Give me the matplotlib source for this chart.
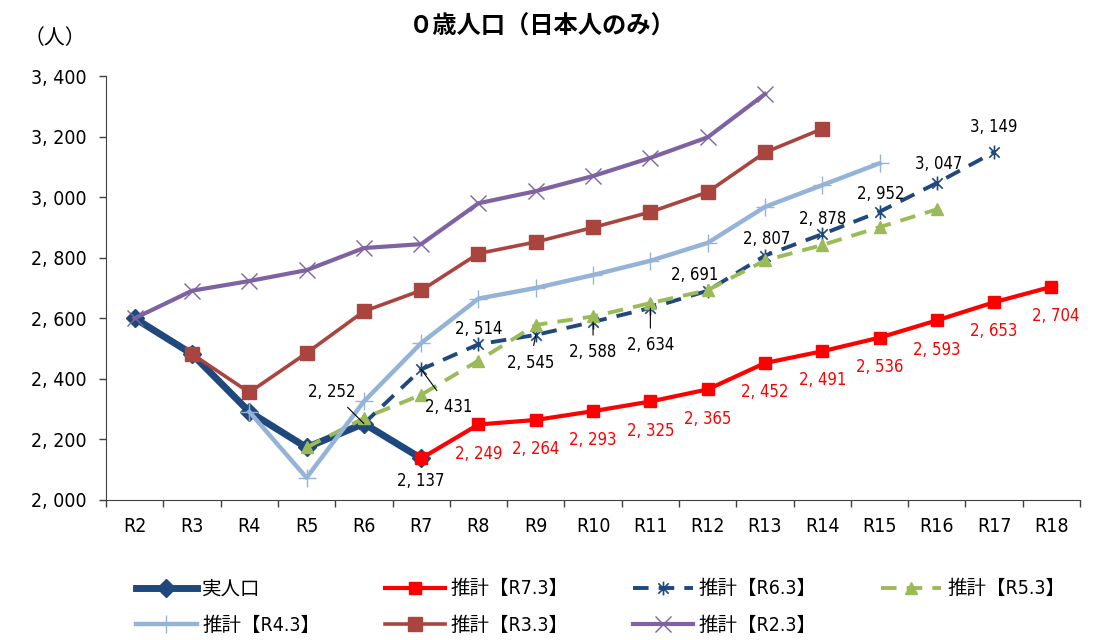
import numpy as np
import matplotlib.pyplot as plt
from matplotlib import font_manager
from matplotlib.path import Path

# categories (fiscal years)
cats = ['R2', 'R3', 'R4', 'R5', 'R6', 'R7', 'R8', 'R9', 'R10',
        'R11', 'R12', 'R13', 'R14', 'R15', 'R16', 'R17', 'R18']

# actual population R2-R7
actual = [2600, 2482, 2291, 2173, 2252, 2137]
# estimates, each starting from its base year
est_r73 = [2137, 2249, 2264, 2293, 2325, 2365, 2452, 2491, 2536, 2593, 2653, 2704]  # R7-R18
est_r63 = [2252, 2431, 2514, 2545, 2588, 2634, 2691, 2807, 2878, 2952, 3047, 3149]  # R6-R17
est_r53 = [2173, 2270, 2347, 2460, 2578, 2606, 2650, 2693, 2791, 2842, 2901, 2960]  # R5-R16
est_r43 = [2291, 2073, 2325, 2518, 2665, 2700, 2743, 2790, 2849, 2968, 3040, 3112]  # R4-R15
est_r33 = [2482, 2355, 2485, 2623, 2692, 2814, 2852, 2900, 2951, 3017, 3148, 3226]  # R3-R14
est_r23 = [2600, 2691, 2723, 2759, 2832, 2845, 2980, 3020, 3070, 3130, 3198, 3341]  # R2-R13

# pick a narrow latin font if there is one
fonts = font_manager.fontManager.ttflist
names = {f.name for f in fonts}
num_font, stretch = 'DejaVu Sans', 'normal'
if 'Liberation Sans Narrow' in names:
    num_font = 'Liberation Sans Narrow'
elif any(f.name == 'DejaVu Sans' and 'condensed' in str(f.stretch).lower()
         or 'Condensed' in f.fname and 'DejaVuSans' in f.fname for f in fonts):
    stretch = 'condensed'
jp_font = 'Noto Sans CJK JP'
plt.rcParams['font.family'] = [num_font, jp_font]
plt.rcParams['font.stretch'] = stretch
print(num_font, stretch)


def xs(start, vals):
    i = cats.index(start)
    return np.arange(i, i + len(vals))


def fmt(v):
    return f'{v:,}'.replace(',', ', ')


# asterisk-like marker (x plus vertical bar)
star = Path([(0, -1), (0, 1), (-0.75, -0.75), (0.75, 0.75), (-0.75, 0.75), (0.75, -0.75)],
            [Path.MOVETO, Path.LINETO] * 3)

fig = plt.figure(figsize=(11, 6.4), dpi=100)
ax = fig.add_axes([0.0964, 0.219, 0.8855, 0.662])

h_act, = ax.plot(xs('R2', actual), actual, color='#1F497D', lw=5, marker='D', ms=9,
                 label='実人口', zorder=3)
h73, = ax.plot(xs('R7', est_r73), est_r73, color='#FF0000', lw=3, marker='s', ms=9,
               label='推計【R7.3】', zorder=4)
h63, = ax.plot(xs('R6', est_r63), est_r63, color='#1F497D', lw=2.8, dashes=(4, 2.6),
               marker=star, ms=10, mew=1.2, mfc='none', label='推計【R6.3】', zorder=5)
h53, = ax.plot(xs('R5', est_r53), est_r53, color='#9BBB59', lw=2.8, dashes=(4, 2.6),
               marker='^', ms=9, label='推計【R5.3】', zorder=6)
h43, = ax.plot(xs('R4', est_r43), est_r43, color='#95B3D7', lw=3.2, marker='+', ms=13,
               mew=1, label='推計【R4.3】', zorder=7)
h33, = ax.plot(xs('R3', est_r33), est_r33, color='#A9443F', lw=2.6, marker='s', ms=10,
               label='推計【R3.3】', zorder=8)
h23, = ax.plot(xs('R2', est_r23), est_r23, color='#7F62A1', lw=3, marker='x', ms=11,
               mew=1, label='推計【R2.3】', zorder=9)

lab_kw = dict(textcoords='offset points', ha='center', va='center', fontsize=12, zorder=10)
leader = dict(arrowstyle='-', color='black', lw=0.8, shrinkA=4, shrinkB=0)

# red labels below the R7.3 points
x73 = xs('R7', est_r73)
for x, v in zip(x73[1:], est_r73[1:]):
    dx = 3 if x == x73[-1] else 0
    ax.annotate(fmt(v), (x, v), xytext=(dx, -21), color='#FF0000', **lab_kw)

# actual R7
ax.annotate(fmt(actual[-1]), (5, actual[-1]), xytext=(0, -16), color='black', **lab_kw)

# R6.3 labels
x63 = xs('R6', est_r63)
offsets = [(-23, 23), (20, -27), (0, 11), (-4, -20), (0, -22), (0, -27),
           (-9, 11), (1, 12), (0, 11), (1, 13), (1, 14), (0, 18)]
leads = [True, True, False, True, True, True, False, False, False, False, False, False]
for x, v, off, ld in zip(x63, est_r63, offsets, leads):
    ax.annotate(fmt(v), (x, v), xytext=off, color='black',
                arrowprops=leader if ld else None, **lab_kw)

ax.set_xlim(-0.5, len(cats) - 0.5)
ax.set_ylim(2000, 3400)
ax.set_yticks(range(2000, 3401, 200))
ax.set_yticklabels([fmt(v) for v in range(2000, 3401, 200)])
ax.set_xticks(np.arange(len(cats)))
ax.set_xticklabels(cats)
ax.set_xticks(np.arange(len(cats) + 1) - 0.5, minor=True)
ax.tick_params(axis='x', which='major', length=0, pad=12, labelsize=14)
ax.tick_params(axis='x', which='minor', length=5, width=1, color='#404040')
ax.tick_params(axis='y', length=5, width=1, color='#404040', pad=9, labelsize=14)
for s in ['top', 'right']:
    ax.spines[s].set_visible(False)
for s in ['left', 'bottom']:
    ax.spines[s].set_color('#404040')

fig.text(0.493, 0.958, '０歳人口（日本人のみ）', ha='center', va='center',
         fontsize=17.5, fontweight='bold', family=jp_font)
fig.text(0.05, 0.94, '（人）', ha='center', va='center', fontsize=15, family=[num_font, jp_font])

handles = [h_act, h43, h73, h33, h63, h23, h53]
fig.legend(handles, [h.get_label() for h in handles], ncol=4, loc='upper left',
           bbox_to_anchor=(0.108, 0.122), frameon=False, fontsize=14,
           handlelength=3.1, handletextpad=0.3, columnspacing=3.3, labelspacing=0.9)

fig.savefig('out.png', dpi=100)
